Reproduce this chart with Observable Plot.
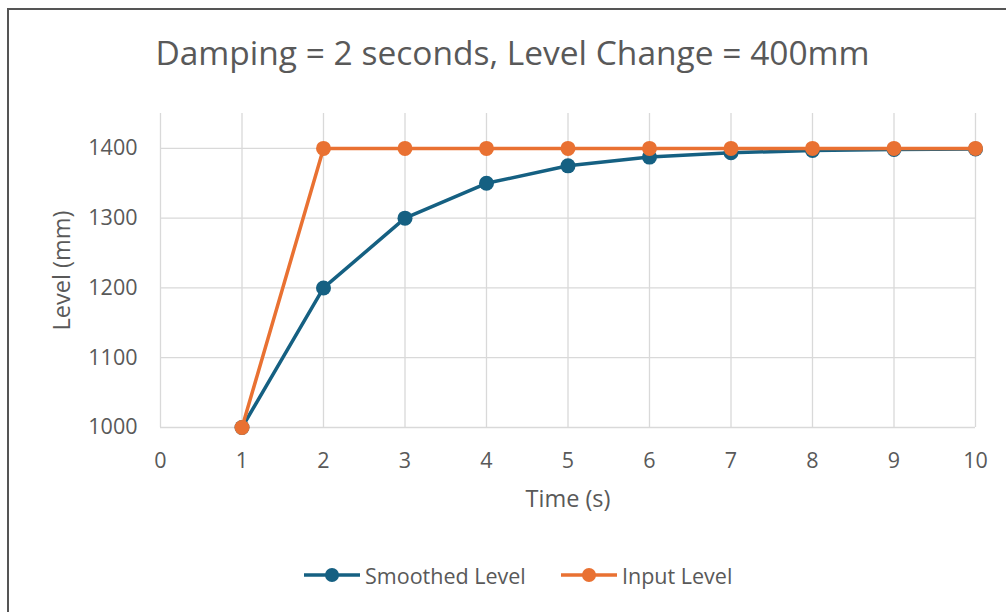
<!DOCTYPE html>
<html><head><meta charset="utf-8">
<script src="https://cdn.jsdelivr.net/npm/d3@7"></script>
<script src="https://cdn.jsdelivr.net/npm/@observablehq/plot@0.6"></script>
<style>
html,body{margin:0;padding:0;background:#fff;overflow:hidden;}
body{width:1006px;height:612px;position:relative;font-family:"Open Sans",sans-serif;color:#595959;}
#frame{position:absolute;left:7px;top:8px;width:1020px;height:620px;border-left:2px solid #555;border-top:2px solid #555;box-sizing:border-box;}
#title{position:absolute;left:0;top:32px;width:1025px;text-align:center;font-size:33.5px;line-height:40px;white-space:nowrap;}
#chart{position:absolute;left:0;top:100px;}
#legend{position:absolute;left:0;top:560px;width:1006px;height:30px;font-size:21.5px;}
.item{position:absolute;top:0;height:30px;display:flex;align-items:center;}
.item svg{margin-right:4px;}
</style></head>
<body>
<div id="frame"></div>
<div id="title"></div>
<div id="chart"></div>
<div id="legend"></div>
<script>
const titleText = "Damping = 2 seconds, Level Change = 400mm";
const times = [1,2,3,4,5,6,7,8,9,10];
const smoothedLevel = [1000,1200,1300,1350,1375,1387.5,1393.8,1396.9,1398.4,1399.2];
const inputLevel = [1000,1400,1400,1400,1400,1400,1400,1400,1400,1400];
const xTicks = [0,1,2,3,4,5,6,7,8,9,10];
const yTicks = [1000,1100,1200,1300,1400];
const seriesNames = ["Smoothed Level","Input Level"];
const colors = ["#156082","#E97132"];

document.getElementById("title").textContent = titleText;

const smoothed = times.map((t,i)=>({t, v: smoothedLevel[i]}));
const input = times.map((t,i)=>({t, v: inputLevel[i]}));

const plot = Plot.plot({
  width: 1006,
  height: 440,
  marginLeft: 160,
  marginRight: 31,
  marginTop: 13,
  marginBottom: 113,
  style: {fontFamily: "'Open Sans', sans-serif", fontSize: "21.5px", color: "#595959", background: "transparent"},
  x: {domain: [0,10]},
  y: {domain: [1000,1450]},
  marks: [
    Plot.ruleX(xTicks, {x: d=>d, y1: 1000, y2: 1450, stroke: "#d9d9d9", strokeWidth: 1.3}),
    Plot.ruleY(yTicks, {y: d=>d, x1: 0, x2: 10, stroke: "#d9d9d9", strokeWidth: 1.3}),
    Plot.axisX({ticks: xTicks, tickSize: 0, tickPadding: 25, label: null, tickFormat: d=>String(d), fontSize: 21.5}),
    Plot.axisY({ticks: yTicks, tickSize: 0, tickPadding: 23, label: null, tickFormat: d=>String(d), fontSize: 21.5}),
    Plot.text(["Time (s)"], {frameAnchor: "bottom", dy: 72, text: d=>d, fontSize: 23.5, fill: "#595959", textAnchor: "middle", lineAnchor: "middle"}),
    Plot.text(["Level (mm)"], {frameAnchor: "left", dx: -98, rotate: -90, text: d=>d, fontSize: 23.5, fill: "#595959", textAnchor: "middle", lineAnchor: "middle"}),
    Plot.line(smoothed, {x: "t", y: "v", stroke: colors[0], strokeWidth: 3.5}),
    Plot.dot(smoothed, {x: "t", y: "v", r: 7.5, fill: colors[0]}),
    Plot.line(input, {x: "t", y: "v", stroke: colors[1], strokeWidth: 3.5}),
    Plot.dot(input, {x: "t", y: "v", r: 7.5, fill: colors[1]})
  ]
});
document.getElementById("chart").appendChild(plot);

// legend
const legend = document.getElementById("legend");
const lefts = [303, 560];
seriesNames.forEach((name,i)=>{
  const div = document.createElement("div");
  div.className = "item";
  div.style.left = lefts[i] + "px";
  div.innerHTML = `<svg width="58" height="20"><line x1="1" y1="10" x2="57" y2="10" stroke="${colors[i]}" stroke-width="3.5"/><circle cx="29" cy="10" r="7" fill="${colors[i]}"/></svg><span>${name}</span>`;
  legend.appendChild(div);
});
</script>
</body></html>
